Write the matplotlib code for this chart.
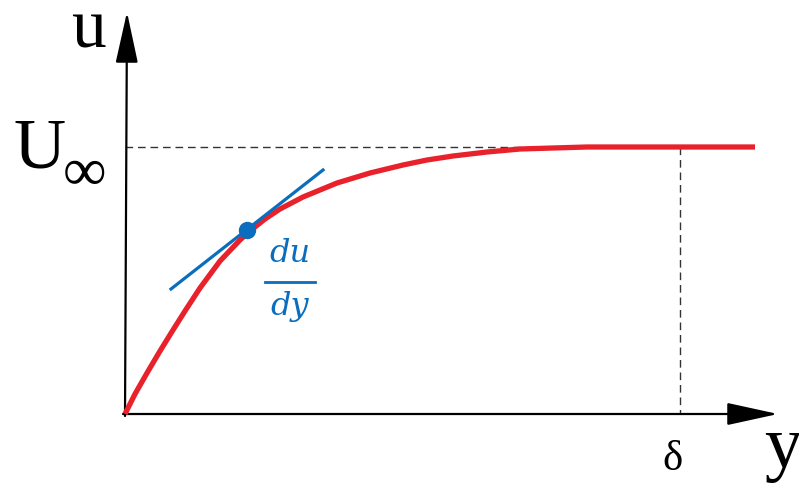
import matplotlib.pyplot as plt

# profile (x along the wall-normal "y" axis, u velocity)
y_pos = [0, 10, 22, 35, 48, 60, 75, 95, 115, 125, 140, 155, 178, 212, 245,
         278, 302, 328, 362, 395, 428, 462, 630]
u_val = [0, 20, 41, 63, 84, 103, 126, 153, 174, 183, 195, 205, 217, 231, 241,
         249, 254, 258, 262, 265, 266, 267, 267]

u_inf = 267
delta = 555
tangent_y = [46, 198]
tangent_u = [125, 244]
point_y, point_u = 122, 184

red = '#e8212b'
blue = '#0b6dbd'

fig = plt.figure(figsize=(7.99, 4.83), dpi=100)
ax = fig.add_axes([0, 0, 1, 1])
ax.set_xlim(-125, 674)
ax.set_ylim(-69, 414)
ax.axis('off')

# axes with arrow heads
arrow = dict(arrowstyle='-|>,head_length=3.2,head_width=0.7', mutation_scale=10,
             lw=1.6, color='black', shrinkA=0, shrinkB=0)
ax.annotate('', xy=(653, 0), xytext=(-2, 0), arrowprops=arrow)
ax.annotate('', xy=(2, 402), xytext=(0, -2), arrowprops=arrow)

# dashed guides
ax.plot([0, delta], [u_inf, u_inf], color='#333333', lw=1, dashes=(5.5, 3.5))
ax.plot([delta, delta], [u_inf, 0], color='#333333', lw=1, dashes=(5.5, 3.5))

# velocity profile
ax.plot(y_pos, u_val, color=red, lw=3.8, solid_capstyle='butt',
        solid_joinstyle='round', zorder=3)

# tangent and point
ax.plot(tangent_y, tangent_u, color=blue, lw=2.3, zorder=4)
ax.plot([point_y], [point_u], 'o', color=blue, ms=11.5, zorder=5)

# labels
serif = ['Liberation Serif', 'DejaVu Serif']
ax.text(-37, 367, 'u', fontsize=50, family=serif, ha='center', va='baseline')
ax.text(-85, 247, 'U', fontsize=52, family=serif, ha='center', va='baseline')
ax.text(-40, 224, '∞', fontsize=44, family=serif, ha='center', va='baseline')
ax.text(548, -56, 'δ', fontsize=31, family=serif, ha='center', va='baseline')
ax.text(658, -53, 'y', fontsize=54, family=serif, ha='center', va='baseline')

ax.text(165, 152, 'du', fontsize=23, family='DejaVu Serif', style='italic',
        color=blue, ha='center', va='baseline')
ax.plot([140, 190], [132, 132], color=blue, lw=2)
ax.text(165, 99, 'dy', fontsize=23, family='DejaVu Serif', style='italic',
        color=blue, ha='center', va='baseline')

fig.savefig('out.png', dpi=100)
